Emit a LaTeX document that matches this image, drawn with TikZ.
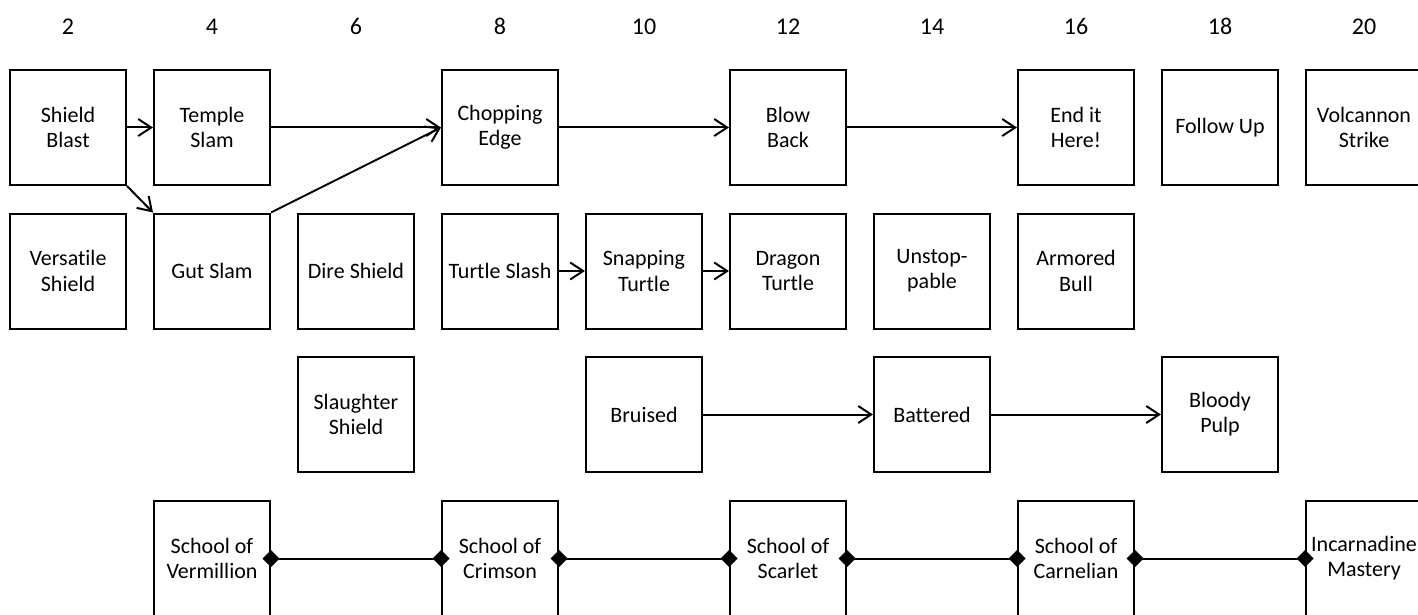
\documentclass[tikz,border=0pt]{standalone}
\usepackage{fontspec}
\setmainfont{Carlito}[Ligatures={NoCommon}]
\usetikzlibrary{arrows.meta}

\begin{document}
\begin{tikzpicture}[x=0.5pt, y=-0.5pt,
    box/.style={draw, line width=1pt, rectangle, minimum width=58pt, minimum height=57.5pt,
      inner sep=1pt, align=center, font=\fontsize{11}{12.6}\selectfont},
    lvl/.style={font=\fontsize{12}{13}\selectfont, text height=8pt, text depth=0pt, inner sep=0pt},
    link/.style={line width=1pt, -{Straight Barb[length=6.5pt,width=8.5pt,line width=1pt]}},
    school/.style={line width=1pt, {Diamond[length=8.5pt,width=8.5pt]}-{Diamond[length=8.5pt,width=8.5pt]},
      shorten <=-4.25pt, shorten >=-4.25pt}]
    \useasboundingbox (0,0) rectangle (1418,615);
    % level numbers along the top
    \foreach \lv [count=\i from 0] in {2,4,...,20}{
      \node[lvl] (lv\lv) at (68+144*\i,27) {\lv};
    }
    % first row
    \node[box] (shieldblast) at (68,127.5) {Shield\\Blast};
    \node[box] (templeslam) at (212,127.5) {Temple\\Slam};
    \node[box] (chopping) at (500,127.5) {Chopping\\Edge};
    \node[box] (blowback) at (788,127.5) {Blow\\Back};
    \node[box] (enditnow) at (1076,127.5) {End it\\Here!};
    \node[box] (followup) at (1220,127.5) {Follow Up};
    \node[box] (volcannon) at (1364,127.5) {Volcannon\\Strike};
    % second row
    \node[box] (versatile) at (68,271) {Versatile\\Shield};
    \node[box] (gutslam) at (212,271) {Gut Slam};
    \node[box] (direshield) at (356,271) {Dire Shield};
    \node[box] (turtleslash) at (500,271) {Turtle Slash};
    \node[box] (snapping) at (644,271) {Snapping\\Turtle};
    \node[box] (dragon) at (788,271) {Dragon\\Turtle};
    \node[box] (unstop) at (932,271) {Unstop-\\pable};
    \node[box] (armored) at (1076,271) {Armored\\Bull};
    % third row
    \node[box] (slaughter) at (356,414.5) {Slaughter\\Shield};
    \node[box] (bruised) at (644,414.5) {Bruised};
    \node[box] (battered) at (932,414.5) {Battered};
    \node[box] (bloody) at (1220,414.5) {Bloody\\Pulp};
    % schools
    \node[box] (vermillion) at (212,558.5) {School of\\Vermillion};
    \node[box] (crimson) at (500,558.5) {School of\\Crimson};
    \node[box] (scarlet) at (788,558.5) {School of\\Scarlet};
    \node[box] (carnelian) at (1076,558.5) {School of\\Carnelian};
    \node[box] (incarnadine) at (1364,558.5) {Incarnadine\\Mastery};

    \draw[link] (shieldblast) -- (templeslam);
    \draw[link] (shieldblast.south east) -- (gutslam.north west);
    \draw[link] (templeslam) -- (chopping);
    \draw[link] (gutslam.north east) -- (chopping.west);
    \draw[link] (chopping) -- (blowback);
    \draw[link] (blowback) -- (enditnow);
    \draw[link] (turtleslash) -- (snapping);
    \draw[link] (snapping) -- (dragon);
    \draw[link] (bruised) -- (battered);
    \draw[link] (battered) -- (bloody);

    \draw[school] (vermillion) -- (crimson);
    \draw[school] (crimson) -- (scarlet);
    \draw[school] (scarlet) -- (carnelian);
    \draw[school] (carnelian) -- (incarnadine);
  \end{tikzpicture}
\end{document}
